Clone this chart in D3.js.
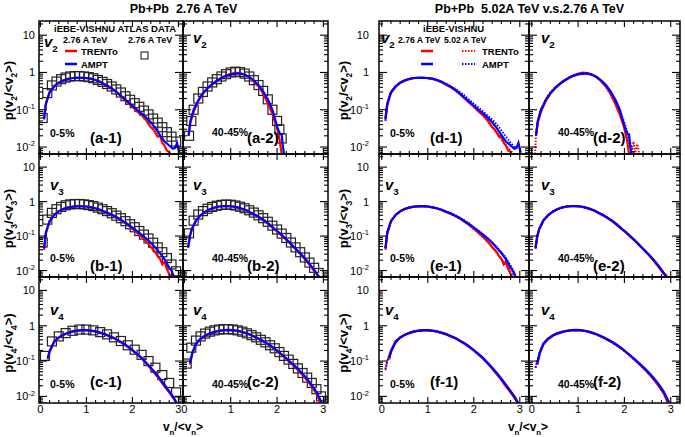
<!DOCTYPE html>
<html><head><meta charset="utf-8">
<script src="https://cdn.jsdelivr.net/npm/d3@7"></script>
<style>body{margin:0;background:#fff}svg{display:block}text{font-family:"Liberation Sans",Arial,sans-serif}</style>
</head><body><svg id="c" width="685" height="437"></svg>
<script>
// ---------------- DATA ----------------
const xTickLabels = ["0","1","2","3"];
const yTickValues = [0.01, 0.1, 1, 10];
const centralities = ["0-5%","40-45%"];
const harmonics = ["2","3","4"];
const leftLetters = ["a","b","c"];
const rightLetters = ["d","e","f"];

// v2, 0-5% (2.76 TeV)
const v2c_trento = [[0.08,0.06],[0.12,0.15],[0.2,0.3],[0.3,0.43],[0.4,0.54],[0.5,0.62],[0.6,0.68],[0.7,0.71],[0.8,0.72],[0.9,0.72],[1.0,0.7],[1.1,0.67],[1.2,0.62],[1.3,0.55],[1.4,0.47],[1.5,0.4],[1.6,0.33],[1.7,0.26],[1.8,0.2],[1.9,0.155],[2.0,0.12],[2.1,0.09],[2.2,0.072],[2.3,0.052],[2.4,0.034],[2.45,0.03],[2.5,0.024],[2.55,0.019],[2.6,0.02],[2.65,0.013],[2.7,0.011],[2.75,0.008],[2.8,0.0075],[2.85,0.005]];
const v2c_ampt = [[0.08,0.055],[0.12,0.14],[0.2,0.29],[0.3,0.42],[0.4,0.53],[0.5,0.61],[0.6,0.67],[0.7,0.71],[0.8,0.72],[0.9,0.72],[1.0,0.71],[1.1,0.68],[1.2,0.63],[1.3,0.56],[1.4,0.48],[1.5,0.41],[1.6,0.34],[1.7,0.27],[1.8,0.21],[1.9,0.165],[2.0,0.13],[2.1,0.1],[2.2,0.08],[2.3,0.062],[2.4,0.046],[2.5,0.032],[2.6,0.021],[2.7,0.014],[2.8,0.011],[2.88,0.009],[2.93,0.0095],[2.97,0.013],[3.02,0.007]];
const v2c_atlas = [[0.05,0.06],[0.15,0.28],[0.25,0.45],[0.35,0.57],[0.45,0.66],[0.55,0.73],[0.65,0.78],[0.75,0.8],[0.85,0.8],[0.95,0.78],[1.05,0.75],[1.15,0.7],[1.25,0.63],[1.35,0.56],[1.45,0.49],[1.55,0.42],[1.65,0.35],[1.75,0.29],[1.85,0.23],[1.95,0.185],[2.05,0.15],[2.15,0.12],[2.25,0.095],[2.35,0.075],[2.45,0.058],[2.55,0.045],[2.65,0.034],[2.75,0.025],[2.85,0.019],[2.95,0.014]];
// v2, 40-45%
const v2p_trento = [[0.09,0.02],[0.13,0.045],[0.2,0.09],[0.3,0.17],[0.4,0.27],[0.5,0.37],[0.6,0.48],[0.7,0.6],[0.8,0.72],[0.9,0.83],[1.0,0.92],[1.1,0.97],[1.2,0.96],[1.3,0.88],[1.4,0.75],[1.5,0.58],[1.6,0.42],[1.7,0.27],[1.8,0.15],[1.9,0.075],[2.0,0.032],[2.05,0.017],[2.1,0.0065]];
const v2p_ampt = [[0.09,0.02],[0.13,0.05],[0.2,0.1],[0.3,0.18],[0.4,0.28],[0.5,0.38],[0.6,0.49],[0.7,0.6],[0.8,0.71],[0.9,0.81],[1.0,0.89],[1.1,0.93],[1.2,0.93],[1.3,0.87],[1.4,0.76],[1.5,0.61],[1.6,0.46],[1.7,0.31],[1.8,0.19],[1.9,0.1],[1.97,0.05],[2.02,0.03],[2.07,0.022],[2.1,0.022],[2.12,0.012],[2.15,0.0065]];
const v2p_atlas = [[0.1,0.02],[0.15,0.05],[0.2,0.1],[0.3,0.2],[0.4,0.3],[0.5,0.42],[0.6,0.54],[0.7,0.66],[0.8,0.78],[0.9,0.9],[1.0,1.0],[1.1,1.05],[1.2,1.02],[1.3,0.93],[1.4,0.78],[1.5,0.62],[1.6,0.46],[1.7,0.32],[1.8,0.19],[1.9,0.1],[2.0,0.05],[2.05,0.03],[2.1,0.017]];
// v3, 0-5%
const v3c_trento = [[0.08,0.04],[0.12,0.12],[0.2,0.27],[0.3,0.41],[0.4,0.53],[0.5,0.62],[0.6,0.68],[0.7,0.72],[0.8,0.74],[0.9,0.74],[1.0,0.72],[1.1,0.68],[1.2,0.63],[1.3,0.57],[1.4,0.5],[1.5,0.44],[1.6,0.38],[1.7,0.32],[1.8,0.26],[1.9,0.21],[2.0,0.165],[2.1,0.125],[2.2,0.095],[2.3,0.07],[2.4,0.048],[2.5,0.034],[2.55,0.026],[2.6,0.022],[2.65,0.015],[2.7,0.018],[2.75,0.011],[2.8,0.008],[2.85,0.006]];
const v3c_ampt = [[0.08,0.045],[0.12,0.13],[0.2,0.27],[0.3,0.41],[0.4,0.52],[0.5,0.61],[0.6,0.67],[0.7,0.71],[0.8,0.73],[0.9,0.73],[1.0,0.72],[1.1,0.68],[1.2,0.64],[1.3,0.58],[1.4,0.51],[1.5,0.45],[1.6,0.39],[1.7,0.33],[1.8,0.27],[1.9,0.22],[2.0,0.175],[2.1,0.14],[2.2,0.11],[2.3,0.085],[2.4,0.064],[2.5,0.046],[2.6,0.032],[2.7,0.021],[2.75,0.016],[2.8,0.012],[2.85,0.01],[2.9,0.0068]];
const v3c_atlas = [[0.05,0.065],[0.15,0.3],[0.25,0.47],[0.35,0.6],[0.45,0.7],[0.55,0.78],[0.65,0.83],[0.75,0.85],[0.85,0.85],[0.95,0.83],[1.05,0.79],[1.15,0.74],[1.25,0.67],[1.35,0.6],[1.45,0.53],[1.55,0.46],[1.65,0.39],[1.75,0.33],[1.85,0.27],[1.95,0.22],[2.05,0.18],[2.15,0.14],[2.25,0.11],[2.35,0.085],[2.45,0.064],[2.55,0.047],[2.65,0.034],[2.75,0.023],[2.85,0.015],[2.95,0.0095]];
// v3, 40-45%
const v3p_trento = [[0.08,0.045],[0.12,0.1],[0.16,0.16],[0.25,0.28],[0.35,0.4],[0.45,0.51],[0.55,0.6],[0.65,0.67],[0.75,0.72],[0.85,0.74],[0.95,0.74],[1.05,0.72],[1.15,0.67],[1.25,0.61],[1.35,0.54],[1.45,0.46],[1.55,0.39],[1.65,0.32],[1.75,0.26],[1.85,0.2],[1.95,0.155],[2.05,0.12],[2.15,0.09],[2.25,0.067],[2.35,0.049],[2.45,0.036],[2.55,0.026],[2.65,0.018],[2.75,0.012],[2.85,0.008],[2.92,0.0065]];
const v3p_ampt = [[0.08,0.047],[0.12,0.1],[0.16,0.16],[0.25,0.28],[0.35,0.4],[0.45,0.51],[0.55,0.6],[0.65,0.67],[0.75,0.72],[0.85,0.74],[0.95,0.74],[1.05,0.72],[1.15,0.68],[1.25,0.62],[1.35,0.55],[1.45,0.47],[1.55,0.4],[1.65,0.33],[1.75,0.27],[1.85,0.21],[1.95,0.16],[2.05,0.125],[2.15,0.094],[2.25,0.07],[2.35,0.051],[2.45,0.037],[2.55,0.027],[2.65,0.019],[2.75,0.013],[2.85,0.0085],[2.9,0.0065]];
const v3p_atlas = [[0.1,0.12],[0.2,0.28],[0.3,0.42],[0.4,0.53],[0.5,0.62],[0.6,0.7],[0.7,0.76],[0.8,0.8],[0.9,0.82],[1.0,0.81],[1.1,0.77],[1.2,0.71],[1.3,0.64],[1.4,0.56],[1.5,0.48],[1.6,0.4],[1.7,0.33],[1.8,0.26],[1.9,0.2],[2.0,0.155],[2.1,0.118],[2.2,0.088],[2.3,0.065],[2.4,0.047],[2.5,0.034],[2.6,0.024],[2.7,0.017],[2.8,0.012],[2.9,0.0085]];
// v4, 0-5%
const v4c_trento = [[0.16,0.11],[0.2,0.18],[0.3,0.35],[0.4,0.46],[0.5,0.55],[0.6,0.62],[0.7,0.68],[0.8,0.72],[0.9,0.74],[1.0,0.74],[1.1,0.72],[1.2,0.68],[1.3,0.63],[1.4,0.57],[1.5,0.5],[1.6,0.44],[1.7,0.37],[1.8,0.31],[1.9,0.25],[2.0,0.2],[2.1,0.155],[2.2,0.118],[2.3,0.086],[2.4,0.061],[2.5,0.042],[2.6,0.029],[2.7,0.019],[2.8,0.013],[2.9,0.0085],[2.95,0.0066]];
const v4c_ampt = [[0.16,0.12],[0.2,0.19],[0.3,0.36],[0.4,0.47],[0.5,0.56],[0.6,0.63],[0.7,0.69],[0.8,0.73],[0.9,0.75],[1.0,0.75],[1.1,0.73],[1.2,0.69],[1.3,0.64],[1.4,0.58],[1.5,0.51],[1.6,0.45],[1.7,0.38],[1.8,0.32],[1.9,0.26],[2.0,0.205],[2.1,0.16],[2.2,0.123],[2.3,0.09],[2.4,0.065],[2.5,0.046],[2.6,0.032],[2.7,0.021],[2.8,0.014],[2.9,0.0092],[2.96,0.0066]];
const v4c_atlas = [[0.1,0.14],[0.25,0.36],[0.4,0.5],[0.55,0.62],[0.7,0.72],[0.85,0.78],[1.0,0.78],[1.15,0.74],[1.3,0.66],[1.45,0.57],[1.6,0.47],[1.75,0.37],[1.9,0.28],[2.05,0.21],[2.2,0.15],[2.35,0.1],[2.5,0.065],[2.65,0.04],[2.8,0.024],[2.95,0.013]];
// v4, 40-45%
const v4p_trento = [[0.12,0.08],[0.17,0.16],[0.25,0.3],[0.35,0.42],[0.45,0.52],[0.55,0.6],[0.65,0.66],[0.75,0.71],[0.85,0.74],[0.95,0.75],[1.05,0.74],[1.15,0.71],[1.25,0.66],[1.35,0.6],[1.45,0.53],[1.55,0.46],[1.65,0.39],[1.75,0.33],[1.85,0.27],[1.95,0.22],[2.05,0.17],[2.15,0.132],[2.25,0.1],[2.35,0.075],[2.45,0.056],[2.55,0.04],[2.65,0.028],[2.75,0.019],[2.85,0.012],[2.93,0.0068]];
const v4p_ampt = [[0.12,0.085],[0.17,0.17],[0.25,0.31],[0.35,0.43],[0.45,0.53],[0.55,0.61],[0.65,0.67],[0.75,0.72],[0.85,0.75],[0.95,0.76],[1.05,0.75],[1.15,0.72],[1.25,0.67],[1.35,0.61],[1.45,0.54],[1.55,0.47],[1.65,0.4],[1.75,0.34],[1.85,0.28],[1.95,0.225],[2.05,0.175],[2.15,0.137],[2.25,0.105],[2.35,0.08],[2.45,0.06],[2.55,0.044],[2.65,0.031],[2.75,0.021],[2.85,0.0135],[2.96,0.0068]];
const v4p_atlas = [[0.05,0.085],[0.15,0.24],[0.25,0.38],[0.35,0.5],[0.45,0.6],[0.55,0.68],[0.65,0.74],[0.75,0.78],[0.85,0.8],[0.95,0.8],[1.05,0.78],[1.15,0.74],[1.25,0.68],[1.35,0.61],[1.45,0.54],[1.55,0.47],[1.65,0.4],[1.75,0.34],[1.85,0.28],[1.95,0.23],[2.05,0.18],[2.15,0.14],[2.25,0.11],[2.35,0.083],[2.45,0.062],[2.55,0.046],[2.65,0.034],[2.75,0.024],[2.85,0.016],[2.95,0.01]];

// 5.02 TeV (dotted)
const v2c_trento502 = [[0.08,0.055],[0.12,0.14],[0.2,0.29],[0.3,0.42],[0.4,0.53],[0.5,0.61],[0.6,0.67],[0.7,0.71],[0.8,0.72],[0.9,0.72],[1.0,0.7],[1.1,0.67],[1.2,0.62],[1.3,0.55],[1.4,0.48],[1.5,0.41],[1.6,0.34],[1.7,0.27],[1.8,0.21],[1.9,0.16],[2.0,0.125],[2.1,0.095],[2.2,0.07],[2.3,0.05],[2.4,0.035],[2.5,0.024],[2.6,0.016],[2.7,0.011],[2.8,0.008],[2.9,0.006]];
const v2c_ampt502 = [[0.08,0.05],[0.12,0.13],[0.2,0.28],[0.3,0.41],[0.4,0.52],[0.5,0.6],[0.6,0.66],[0.7,0.7],[0.8,0.72],[0.9,0.72],[1.0,0.71],[1.1,0.68],[1.2,0.63],[1.3,0.57],[1.4,0.5],[1.5,0.43],[1.6,0.36],[1.7,0.3],[1.8,0.24],[1.9,0.185],[2.0,0.145],[2.1,0.115],[2.2,0.09],[2.3,0.07],[2.4,0.055],[2.5,0.04],[2.6,0.028],[2.7,0.019],[2.8,0.013],[2.9,0.0095],[2.97,0.011],[3.02,0.008]];
const v2p_trento502 = [[0.07,0.0065],[0.09,0.02],[0.13,0.05],[0.2,0.1],[0.3,0.18],[0.4,0.28],[0.5,0.38],[0.6,0.5],[0.7,0.62],[0.8,0.74],[0.9,0.85],[1.0,0.94],[1.1,0.99],[1.2,0.97],[1.3,0.88],[1.4,0.74],[1.5,0.57],[1.6,0.41],[1.7,0.26],[1.8,0.145],[1.9,0.072],[1.95,0.05],[2.0,0.03],[2.05,0.018],[2.1,0.012],[2.15,0.008],[2.2,0.014],[2.23,0.007],[2.28,0.012],[2.32,0.0065]];
const v2p_ampt502 = [[0.09,0.02],[0.13,0.05],[0.2,0.1],[0.3,0.19],[0.4,0.29],[0.5,0.39],[0.6,0.5],[0.7,0.61],[0.8,0.72],[0.9,0.82],[1.0,0.9],[1.1,0.94],[1.2,0.93],[1.3,0.86],[1.4,0.75],[1.5,0.6],[1.6,0.45],[1.7,0.3],[1.8,0.18],[1.9,0.095],[2.0,0.045],[2.05,0.028],[2.1,0.017],[2.15,0.01],[2.2,0.0065]];
const v3c_trento502 = [[0.08,0.045],[0.12,0.12],[0.2,0.27],[0.3,0.41],[0.4,0.52],[0.5,0.61],[0.6,0.67],[0.7,0.71],[0.8,0.73],[0.9,0.73],[1.0,0.72],[1.1,0.68],[1.2,0.63],[1.3,0.57],[1.4,0.5],[1.5,0.44],[1.6,0.38],[1.7,0.32],[1.8,0.26],[1.9,0.205],[2.0,0.16],[2.1,0.122],[2.2,0.092],[2.3,0.067],[2.4,0.047],[2.5,0.033],[2.6,0.022],[2.7,0.015],[2.8,0.0095],[2.85,0.007]];
const v3c_ampt502 = [[0.08,0.045],[0.12,0.13],[0.2,0.27],[0.3,0.41],[0.4,0.52],[0.5,0.61],[0.6,0.67],[0.7,0.71],[0.8,0.73],[0.9,0.73],[1.0,0.72],[1.1,0.69],[1.2,0.64],[1.3,0.58],[1.4,0.52],[1.5,0.46],[1.6,0.4],[1.7,0.34],[1.8,0.28],[1.9,0.23],[2.0,0.18],[2.1,0.145],[2.2,0.113],[2.3,0.088],[2.4,0.066],[2.5,0.048],[2.6,0.034],[2.7,0.023],[2.8,0.014],[2.88,0.0085],[2.92,0.0068]];
const v3p_trento502 = [[0.08,0.042],[0.12,0.1],[0.16,0.16],[0.25,0.28],[0.35,0.4],[0.45,0.51],[0.55,0.6],[0.65,0.67],[0.75,0.72],[0.85,0.74],[0.95,0.74],[1.05,0.72],[1.15,0.68],[1.25,0.62],[1.35,0.55],[1.45,0.47],[1.55,0.4],[1.65,0.33],[1.75,0.26],[1.85,0.2],[1.95,0.156],[2.05,0.12],[2.15,0.09],[2.25,0.068],[2.35,0.05],[2.45,0.037],[2.55,0.027],[2.65,0.019],[2.75,0.013],[2.85,0.0085],[2.95,0.0065]];
const v3p_ampt502 = [[0.08,0.045],[0.12,0.1],[0.16,0.16],[0.25,0.28],[0.35,0.4],[0.45,0.51],[0.55,0.6],[0.65,0.67],[0.75,0.72],[0.85,0.74],[0.95,0.74],[1.05,0.72],[1.15,0.68],[1.25,0.62],[1.35,0.55],[1.45,0.47],[1.55,0.4],[1.65,0.33],[1.75,0.27],[1.85,0.21],[1.95,0.16],[2.05,0.124],[2.15,0.093],[2.25,0.069],[2.35,0.05],[2.45,0.037],[2.55,0.027],[2.65,0.019],[2.75,0.013],[2.85,0.0085],[2.92,0.0065]];
const v4c_trento502 = [[0.08,0.055],[0.12,0.1],[0.2,0.2],[0.3,0.34],[0.4,0.46],[0.5,0.55],[0.6,0.62],[0.7,0.68],[0.8,0.72],[0.9,0.74],[1.0,0.74],[1.1,0.72],[1.2,0.68],[1.3,0.63],[1.4,0.57],[1.5,0.5],[1.6,0.44],[1.7,0.37],[1.8,0.31],[1.9,0.25],[2.0,0.2],[2.1,0.155],[2.2,0.118],[2.3,0.087],[2.4,0.063],[2.5,0.044],[2.6,0.03],[2.7,0.02],[2.8,0.0135],[2.9,0.0088],[2.97,0.0066]];
const v4c_ampt502 = [[0.08,0.06],[0.12,0.1],[0.2,0.19],[0.3,0.33],[0.4,0.45],[0.5,0.55],[0.6,0.62],[0.7,0.68],[0.8,0.72],[0.9,0.74],[1.0,0.74],[1.1,0.72],[1.2,0.68],[1.3,0.63],[1.4,0.57],[1.5,0.5],[1.6,0.44],[1.7,0.37],[1.8,0.31],[1.9,0.25],[2.0,0.2],[2.1,0.155],[2.2,0.12],[2.3,0.088],[2.4,0.064],[2.5,0.045],[2.6,0.031],[2.7,0.021],[2.8,0.014],[2.9,0.009],[2.96,0.0066]];
const v4p_trento502 = [[0.08,0.065],[0.12,0.1],[0.17,0.17],[0.25,0.3],[0.35,0.42],[0.45,0.52],[0.55,0.6],[0.65,0.66],[0.75,0.71],[0.85,0.74],[0.95,0.75],[1.05,0.74],[1.15,0.71],[1.25,0.66],[1.35,0.6],[1.45,0.53],[1.55,0.46],[1.65,0.39],[1.75,0.33],[1.85,0.27],[1.95,0.22],[2.05,0.17],[2.15,0.132],[2.25,0.1],[2.35,0.076],[2.45,0.057],[2.55,0.041],[2.65,0.029],[2.75,0.02],[2.85,0.013],[2.95,0.0075],[3.0,0.0065]];
const v4p_ampt502 = [[0.08,0.065],[0.12,0.1],[0.17,0.17],[0.25,0.3],[0.35,0.42],[0.45,0.52],[0.55,0.6],[0.65,0.66],[0.75,0.71],[0.85,0.74],[0.95,0.75],[1.05,0.74],[1.15,0.71],[1.25,0.66],[1.35,0.6],[1.45,0.53],[1.55,0.46],[1.65,0.39],[1.75,0.33],[1.85,0.27],[1.95,0.22],[2.05,0.172],[2.15,0.134],[2.25,0.102],[2.35,0.077],[2.45,0.058],[2.55,0.042],[2.65,0.03],[2.75,0.02],[2.85,0.013],[2.95,0.0072]];

// ---------------- LAYOUT ----------------
const svg = d3.select("#c");
const yDomain = [0.0065, 24];
const rows = [[21,154],[154,277],[277,403]];
const RED = "#ff0000", BLUE = "#0000ff";

const blocks = [
  {edges:[39,183,328], xdom:[-0.03,3.1], labelX:35, titleX:13, xTitleX:183,
   title:"Pb+Pb  2.76 A TeV", letters:leftLetters,
   data:[[{t:v2c_trento,a:v2c_ampt,d:v2c_atlas},{t:v2p_trento,a:v2p_ampt,d:v2p_atlas}],
         [{t:v3c_trento,a:v3c_ampt,d:v3c_atlas},{t:v3p_trento,a:v3p_ampt,d:v3p_atlas}],
         [{t:v4c_trento,a:v4c_ampt,d:v4c_atlas},{t:v4p_trento,a:v4p_ampt,d:v4p_atlas}]]},
  {edges:[379,529,680], xdom:[-0.06,3.2], labelX:369, titleX:348, xTitleX:528,
   title:"Pb+Pb  5.02A TeV v.s.2.76 A TeV", letters:rightLetters,
   data:[[{t:v2c_trento,a:v2c_ampt,t5:v2c_trento502,a5:v2c_ampt502},{t:v2p_trento,a:v2p_ampt,t5:v2p_trento502,a5:v2p_ampt502}],
         [{t:v3c_trento,a:v3c_ampt,t5:v3c_trento502,a5:v3c_ampt502},{t:v3p_trento,a:v3p_ampt,t5:v3p_trento502,a5:v3p_ampt502}],
         [{t:v4c_trento,a:v4c_ampt,t5:v4c_trento502,a5:v4c_ampt502},{t:v4p_trento,a:v4p_ampt,t5:v4p_trento502,a5:v4p_ampt502}]]}
];

function rich(parent, x, y, parts, size, attrs) {
  const t = parent.append("text").attr("x", x).attr("y", y).attr("font-size", size);
  Object.entries(attrs || {}).forEach(([k, v]) => t.attr(k, v));
  let shift = 0;
  parts.forEach(p => {
    let target = 0, fs = null;
    if (p.s === "sub") { target = size * 0.3; fs = size * 0.65; }
    if (p.s === "sup") { target = -size * 0.42; fs = size * 0.68; }
    const ts = t.append("tspan").text(p.t).attr("dy", target - shift);
    if (fs) ts.attr("font-size", fs);
    if (p.style) ts.attr("font-style", p.style);
    shift = target;
  });
  return t;
}

const defs = svg.append("defs");
let clipId = 0;

blocks.forEach((B, bi) => {
  svg.append("text").attr("x", (B.edges[0] + B.edges[2]) / 2).attr("y", 13)
    .attr("text-anchor", "middle").attr("font-size", 12.5).attr("font-weight", "bold")
    .attr("xml:space", "preserve").text(B.title);
  rich(svg, B.xTitleX, 431, [{t:"v"},{t:"n",s:"sub"},{t:"/<v"},{t:"n",s:"sub"},{t:">"}], 12,
       {"text-anchor":"middle","font-weight":"bold"});

  rows.forEach((R, ri) => {
    const y = d3.scaleLog().domain(yDomain).range([R[1], R[0]]);
    const n = harmonics[ri];
    const cy = (R[0] + R[1]) / 2 + 3;
    rich(svg, 0, 0, [{t:"p(v"},{t:n,s:"sub"},{t:"/<v"},{t:n,s:"sub"},{t:">)"}], 13,
         {"text-anchor":"middle","font-weight":"bold","transform":`translate(${B.titleX},${cy}) rotate(-90)`});
    yTickValues.forEach(v => {
      const yy = y(v) + 4;
      let parts;
      if (v === 10) parts = [{t:"10"}];
      else if (v === 1) parts = [{t:"1"}];
      else parts = [{t:"10"},{t: v === 0.1 ? "-1" : "-2", s:"sup"}];
      rich(svg, B.labelX, yy, parts, 11, {"text-anchor":"end"});
    });

    [0, 1].forEach(ci => {
      const x0 = B.edges[ci], x1 = B.edges[ci + 1];
      const x = d3.scaleLinear().domain(B.xdom).range([x0, x1]);
      const D = B.data[ri][ci];
      const g = svg.append("g");
      const id = "clip" + (clipId++);
      defs.append("clipPath").attr("id", id).append("rect")
        .attr("x", x0).attr("y", R[0]).attr("width", x1 - x0).attr("height", R[1] - R[0]);
      const gp = g.append("g").attr("clip-path", `url(#${id})`);
      const line = d3.line().x(d => x(d[0])).y(d => y(d[1]));

      if (D.d) {
        gp.selectAll("rect.sq").data(D.d).join("rect").attr("class", "sq")
          .attr("x", d => x(d[0]) - 4.5).attr("y", d => y(d[1]) - 4.5)
          .attr("width", 9).attr("height", 9)
          .attr("fill", "none").attr("stroke", "#222").attr("stroke-width", 1.2);
      }
      gp.append("path").attr("d", line(D.t)).attr("fill", "none").attr("stroke", RED).attr("stroke-width", 2.2);
      if (D.t5) gp.append("path").attr("d", line(D.t5)).attr("fill", "none").attr("stroke", RED)
        .attr("stroke-width", 2).attr("stroke-dasharray", "1.5,1.5");
      gp.append("path").attr("d", line(D.a)).attr("fill", "none").attr("stroke", BLUE).attr("stroke-width", 2.2);
      if (D.a5) gp.append("path").attr("d", line(D.a5)).attr("fill", "none").attr("stroke", BLUE)
        .attr("stroke-width", 2).attr("stroke-dasharray", "1.5,1.5");

      const tk = g.append("g").attr("stroke", "#000").attr("stroke-width", 1.1);
      for (let k = 0; k <= 15; k++) {
        const v = k * 0.2;
        if (v < B.xdom[0] || v > B.xdom[1]) continue;
        const major = Math.abs(v - Math.round(v)) < 1e-6;
        const L = major ? 6 : 3;
        const px = x(v);
        tk.append("line").attr("x1", px).attr("x2", px).attr("y1", R[1]).attr("y2", R[1] - L);
        tk.append("line").attr("x1", px).attr("x2", px).attr("y1", R[0]).attr("y2", R[0] + L);
      }
      for (let e = -3; e <= 1; e++) {
        for (let m = 1; m <= 9; m++) {
          const v = m * Math.pow(10, e);
          if (v < yDomain[0] || v > yDomain[1]) continue;
          const L = m === 1 ? 8 : 4;
          const py = y(v);
          tk.append("line").attr("x1", x0).attr("x2", x0 + L).attr("y1", py).attr("y2", py);
          tk.append("line").attr("x1", x1).attr("x2", x1 - L).attr("y1", py).attr("y2", py);
        }
      }
      g.append("rect").attr("x", x0).attr("y", R[0]).attr("width", x1 - x0).attr("height", R[1] - R[0])
        .attr("fill", "none").attr("stroke", "#000").attr("stroke-width", 1.5);

      if (ri === 2) {
        xTickLabels.forEach(s => {
          svg.append("text").attr("x", x(+s)).attr("y", 413).attr("text-anchor", "middle")
            .attr("font-size", 11).text(s);
        });
      }

      // harmonic label
      let vx;
      if (ci === 0) vx = x0 + (bi === 0 ? (ri === 0 ? 5 : 11) : (ri === 0 ? 2 : 6));
      else vx = x0 + (bi === 0 ? 10 : 12);
      const vy = ri === 0 ? (ci === 0 && bi === 0 ? 47 : 43) : (ri === 1 ? 190 : 315);
      rich(g, vx, vy, [{t:"v", style:"italic"},{t:n,s:"sub"}], 15, {"font-weight":"bold"});

      const letter = B.letters[ri];
      const tagY = [143, 271, 387][ri];
      const cenY = [137, 262, 388][ri];
      if (ci === 0) {
        g.append("text").attr("x", x0 + 11).attr("y", cenY).attr("font-size", 10.5)
          .attr("font-weight", "bold").text(centralities[0]);
        g.append("text").attr("x", x0 + 51).attr("y", tagY).attr("font-size", 15)
          .attr("font-weight", "bold").text(`(${letter}-1)`);
      } else {
        g.append("text").attr("x", x0 + 29).attr("y", ri === 0 ? 136 : cenY).attr("font-size", 10.5)
          .attr("font-weight", "bold").text(centralities[1]);
        g.append("text").attr("x", x0 + 64).attr("y", tagY).attr("font-size", 15)
          .attr("font-weight", "bold").text(`(${letter}-2)`);
      }
    });
  });
});

// ---------------- LEGENDS ----------------
const lg = svg.append("g").attr("font-weight", "bold");
lg.append("text").attr("x", 54).attr("y", 32).attr("font-size", 9.5).text("iEBE-VISHNU ATLAS DATA");
lg.append("text").attr("x", 63).attr("y", 43).attr("font-size", 9).text("2.76 A TeV");
lg.append("text").attr("x", 128).attr("y", 43).attr("font-size", 9).text("2.76 A TeV");
lg.append("line").attr("x1", 65).attr("x2", 77).attr("y1", 51).attr("y2", 51).attr("stroke", RED).attr("stroke-width", 2.5);
lg.append("text").attr("x", 81).attr("y", 55).attr("font-size", 9.5).text("TRENTo");
lg.append("line").attr("x1", 65).attr("x2", 77).attr("y1", 64).attr("y2", 64).attr("stroke", BLUE).attr("stroke-width", 2.5);
lg.append("text").attr("x", 81).attr("y", 68).attr("font-size", 9.5).text("AMPT");
lg.append("rect").attr("x", 141).attr("y", 52).attr("width", 7).attr("height", 7).attr("fill", "none").attr("stroke", "#222").attr("stroke-width", 1.1);

lg.append("text").attr("x", 423).attr("y", 32).attr("font-size", 9.5).text("iEBE-VISHNU");
lg.append("text").attr("x", 398).attr("y", 43).attr("font-size", 8.6).text("2.76 A TeV");
lg.append("text").attr("x", 444).attr("y", 43).attr("font-size", 8.6).text("5.02 A TeV");
lg.append("line").attr("x1", 421).attr("x2", 433).attr("y1", 51).attr("y2", 51).attr("stroke", RED).attr("stroke-width", 2.5);
lg.append("line").attr("x1", 462).attr("x2", 475).attr("y1", 51).attr("y2", 51).attr("stroke", RED).attr("stroke-width", 2).attr("stroke-dasharray", "1.5,1.5");
lg.append("text").attr("x", 482).attr("y", 55).attr("font-size", 9.5).text("TRENTo");
lg.append("line").attr("x1", 421).attr("x2", 433).attr("y1", 64).attr("y2", 64).attr("stroke", BLUE).attr("stroke-width", 2.5);
lg.append("line").attr("x1", 462).attr("x2", 475).attr("y1", 64).attr("y2", 64).attr("stroke", BLUE).attr("stroke-width", 2).attr("stroke-dasharray", "1.5,1.5");
lg.append("text").attr("x", 482).attr("y", 68).attr("font-size", 9.5).text("AMPT");
</script></body></html>
